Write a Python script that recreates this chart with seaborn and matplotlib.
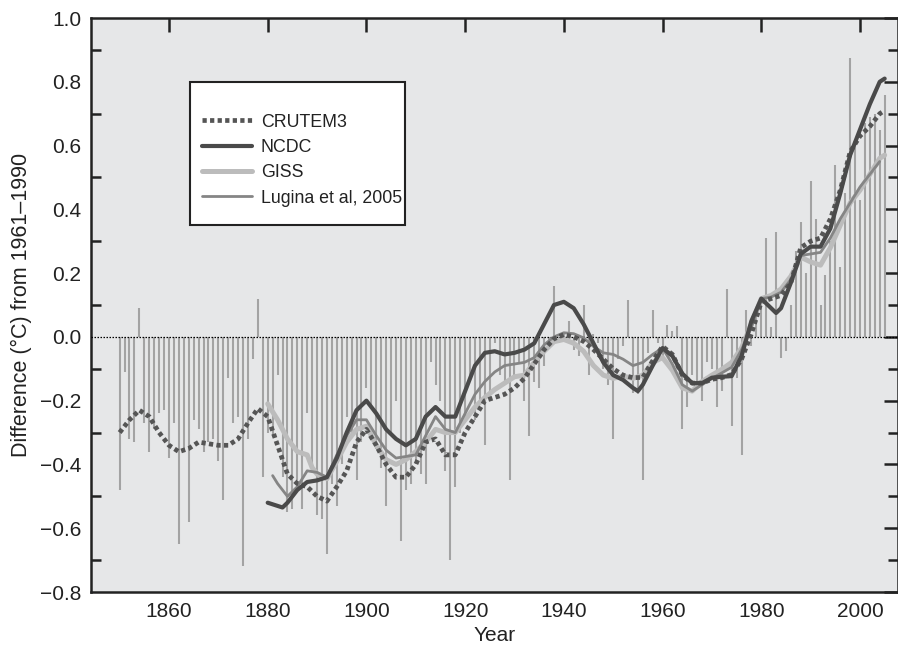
import matplotlib
matplotlib.use("Agg")
import matplotlib.pyplot as plt
import seaborn as sns
import numpy as np
import pandas as pd
from matplotlib.ticker import MultipleLocator
from matplotlib.patches import Rectangle

# ---------------- data ----------------
bar_years = list(range(1850, 2006))
bar_values = [
    -0.48, -0.11, -0.32, -0.33, 0.09, -0.27, -0.36, -0.29, -0.24, -0.23,   # 1850s
    -0.38, -0.27, -0.65, -0.36, -0.58, -0.26, -0.29, -0.36, -0.33, -0.32,  # 1860s
    -0.39, -0.51, -0.13, -0.27, -0.25, -0.72, -0.32, -0.07, 0.12, -0.44,   # 1870s
    -0.30, -0.31, -0.12, -0.44, -0.55, -0.54, -0.45, -0.54, -0.24, -0.40,  # 1880s
    -0.56, -0.57, -0.68, -0.46, -0.53, -0.40, -0.25, -0.30, -0.45, -0.33,  # 1890s
    -0.16, -0.22, -0.35, -0.41, -0.53, -0.30, -0.20, -0.64, -0.48, -0.46,  # 1900s
    -0.40, -0.43, -0.46, -0.08, -0.15, -0.20, -0.42, -0.70, -0.47, -0.30,  # 1910s
    -0.25, -0.12, -0.26, -0.20, -0.34, -0.20, -0.02, -0.12, -0.15, -0.45,  # 1920s
    -0.12, -0.08, -0.20, -0.31, -0.14, -0.16, -0.09, -0.03, 0.16, -0.02,   # 1930s
    0.01, 0.05, -0.04, -0.06, 0.10, -0.12, 0.01, -0.02, -0.10, -0.15,      # 1940s
    -0.32, -0.07, -0.03, 0.115, -0.175, -0.18, -0.45, -0.05, 0.085, -0.02, # 1950s
    -0.06, 0.036, 0.02, 0.033, -0.29, -0.22, -0.12, -0.15, -0.20, -0.08,   # 1960s
    -0.10, -0.22, -0.17, 0.15, -0.28, -0.13, -0.37, 0.085, -0.03, 0.08,    # 1970s
    0.12, 0.31, 0.03, 0.33, -0.066, -0.045, 0.10, 0.27, 0.36, 0.20,        # 1980s
    0.49, 0.37, 0.10, 0.195, 0.30, 0.54, 0.22, 0.45, 0.875, 0.60,          # 1990s
    0.43, 0.67, 0.69, 0.70, 0.65, 0.76,                                    # 2000s
]

crutem_years = [1850, 1852, 1854, 1856, 1858, 1860, 1862, 1864, 1866, 1868,
                1870, 1872, 1874, 1876, 1878, 1880, 1882, 1884, 1886, 1888,
                1890, 1892, 1894, 1896, 1898, 1900, 1902, 1904, 1906, 1908,
                1910, 1912, 1914, 1916, 1918, 1920, 1922, 1924, 1926, 1928,
                1930, 1932, 1934, 1936, 1938, 1940, 1942, 1944, 1946, 1948,
                1950, 1952, 1954, 1956, 1958, 1960, 1962, 1964, 1966, 1968,
                1970, 1972, 1974, 1976, 1978, 1980, 1982, 1984, 1986, 1988,
                1990, 1992, 1994, 1996, 1998, 2000, 2002, 2004, 2005]
crutem_values = [-0.30, -0.26, -0.23, -0.25, -0.30, -0.34, -0.36, -0.35, -0.33, -0.335,
                 -0.34, -0.34, -0.32, -0.27, -0.225, -0.25, -0.34, -0.43, -0.46, -0.47,
                 -0.50, -0.515, -0.47, -0.42, -0.33, -0.29, -0.34, -0.40, -0.44, -0.44,
                 -0.40, -0.33, -0.32, -0.37, -0.37, -0.30, -0.25, -0.20, -0.19, -0.18,
                 -0.16, -0.13, -0.085, -0.04, -0.006, 0.007, 0.0, -0.014, -0.04, -0.07,
                 -0.10, -0.12, -0.128, -0.127, -0.075, -0.03, -0.055, -0.12, -0.145, -0.145,
                 -0.133, -0.128, -0.118, -0.07, 0.01, 0.11, 0.12, 0.13, 0.17, 0.28,
                 0.30, 0.31, 0.37, 0.46, 0.58, 0.63, 0.66, 0.70, 0.71]

ncdc_years = [1880, 1882, 1883, 1884, 1886, 1888, 1890, 1892, 1894, 1896,
              1898, 1900, 1902, 1904, 1906, 1908, 1910, 1912, 1914, 1916,
              1918, 1920, 1922, 1924, 1926, 1928, 1930, 1932, 1934, 1936,
              1938, 1940, 1942, 1944, 1946, 1948, 1950, 1952, 1954, 1955,
              1956, 1958, 1960, 1962, 1964, 1966, 1968, 1970, 1972, 1974,
              1976, 1978, 1980, 1982, 1983, 1984, 1986, 1988, 1990, 1992,
              1994, 1996, 1998, 2000, 2002, 2004, 2005]
ncdc_values = [-0.52, -0.53, -0.535, -0.52, -0.48, -0.455, -0.45, -0.44, -0.38, -0.30,
               -0.23, -0.20, -0.24, -0.29, -0.32, -0.34, -0.32, -0.25, -0.22, -0.25,
               -0.25, -0.17, -0.09, -0.05, -0.045, -0.055, -0.05, -0.04, -0.02, 0.04,
               0.10, 0.11, 0.09, 0.04, -0.02, -0.08, -0.12, -0.135, -0.16, -0.17,
               -0.15, -0.09, -0.035, -0.06, -0.115, -0.145, -0.145, -0.128, -0.125, -0.123,
               -0.06, 0.05, 0.12, 0.09, 0.075, 0.09, 0.17, 0.26, 0.283, 0.283,
               0.34, 0.45, 0.57, 0.65, 0.73, 0.80, 0.81]

giss_years = [1880, 1882, 1884, 1886, 1888, 1889, 1890, 1892, 1894, 1896,
              1898, 1900, 1902, 1904, 1906, 1908, 1910, 1912, 1914, 1916,
              1918, 1920, 1922, 1924, 1926, 1928, 1930, 1932, 1934, 1936,
              1938, 1940, 1942, 1944, 1946, 1948, 1950, 1952, 1954, 1956,
              1958, 1960, 1962, 1964, 1966, 1968, 1970, 1972, 1974, 1976,
              1978, 1980, 1982, 1984, 1986, 1988, 1990, 1992, 1994, 1996,
              1998, 2000, 2002, 2004, 2005]
giss_values = [-0.21, -0.26, -0.32, -0.36, -0.37, -0.41, -0.43, -0.445, -0.39, -0.33,
               -0.29, -0.28, -0.34, -0.385, -0.40, -0.385, -0.36, -0.33, -0.29, -0.30,
               -0.30, -0.26, -0.22, -0.19, -0.165, -0.145, -0.125, -0.12, -0.08, -0.045,
               -0.015, -0.008, -0.02, -0.045, -0.09, -0.12, -0.13, -0.123, -0.13, -0.12,
               -0.08, -0.065, -0.105, -0.16, -0.17, -0.14, -0.12, -0.102, -0.08, -0.035,
               0.04, 0.12, 0.13, 0.15, 0.19, 0.25, 0.235, 0.225, 0.28, 0.35,
               0.42, 0.46, 0.51, 0.56, 0.57]

lugina_years = [1881, 1882, 1884, 1886, 1888, 1890, 1892, 1894, 1896, 1898,
                1900, 1902, 1904, 1906, 1908, 1910, 1912, 1914, 1916, 1918,
                1920, 1922, 1924, 1926, 1928, 1930, 1932, 1934, 1936, 1938,
                1940, 1942, 1944, 1946, 1948, 1950, 1952, 1954, 1956, 1958,
                1960, 1962, 1964, 1966, 1968, 1970, 1972, 1974, 1976, 1978,
                1980, 1982, 1984, 1986, 1988, 1990, 1992, 1994, 1996, 1998,
                2000, 2002, 2004]
lugina_values = [-0.435, -0.46, -0.50, -0.47, -0.42, -0.425, -0.44, -0.37, -0.31, -0.26,
                 -0.26, -0.31, -0.355, -0.38, -0.375, -0.37, -0.31, -0.25, -0.29, -0.30,
                 -0.24, -0.18, -0.14, -0.11, -0.09, -0.085, -0.08, -0.065, -0.025, 0.0,
                 0.013, 0.01, -0.003, -0.03, -0.05, -0.055, -0.07, -0.09, -0.08, -0.055,
                 -0.035, -0.086, -0.15, -0.17, -0.15, -0.13, -0.113, -0.095, -0.04, 0.03,
                 0.12, 0.125, 0.14, 0.18, 0.255, 0.26, 0.265, 0.31, 0.37, 0.42,
                 0.47, 0.51, 0.55]

series_labels = ["CRUTEM3", "NCDC", "GISS", "Lugina et al, 2005"]
x_ticks = [1860, 1880, 1900, 1920, 1940, 1960, 1980, 2000]
y_ticks = [-0.8, -0.6, -0.4, -0.2, 0.0, 0.2, 0.4, 0.6, 0.8, 1.0]
x_label = "Year"
y_label = "Difference (°C) from 1961–1990"

# ---------------- style ----------------
sns.set_theme(style="white")
plt.rcParams["font.family"] = ["Liberation Sans", "DejaVu Sans"]
plt.rcParams["axes.unicode_minus"] = True

fig = plt.figure(figsize=(8.98, 6.45), dpi=100)
ax = fig.add_axes([91 / 898, 1 - 592 / 645, (898 - 91) / 898, (592 - 18) / 645])
ax.set_facecolor("#e6e7e8")

# annual bars
ax.vlines(bar_years, 0, bar_values, color="#a3a3a3", linewidth=1.5, zorder=2)
# zero line
ax.axhline(0, color="black", linewidth=0.9, linestyle=(0, (1.2, 1.2)), zorder=3)

df_c = pd.DataFrame({"year": crutem_years, "value": crutem_values})
df_n = pd.DataFrame({"year": ncdc_years, "value": ncdc_values})
df_g = pd.DataFrame({"year": giss_years, "value": giss_values})
df_l = pd.DataFrame({"year": lugina_years, "value": lugina_values})

sns.lineplot(data=df_g, x="year", y="value", ax=ax, color="#bcbcbc", linewidth=3.6,
             label=series_labels[2], zorder=4)
sns.lineplot(data=df_l, x="year", y="value", ax=ax, color="#858585", linewidth=2.0,
             label=series_labels[3], zorder=5)
sns.lineplot(data=df_c, x="year", y="value", ax=ax, color="#555555", linewidth=3.4,
             linestyle=(0, (0.9, 0.7)), label=series_labels[0], zorder=6)
sns.lineplot(data=df_n, x="year", y="value", ax=ax, color="#4a4a4a", linewidth=3.0,
             label=series_labels[1], zorder=7)

ax.set_xlim(1844.2, 2007.7)
ax.set_ylim(-0.8, 1.0)
ax.set_xticks(x_ticks)
ax.set_yticks(y_ticks)
ax.set_yticklabels([f"{v:.1f}".replace("-", "\u2212") for v in y_ticks])
ax.yaxis.set_minor_locator(MultipleLocator(0.1))

for s in ax.spines.values():
    s.set_color("#222222")
    s.set_linewidth(1.8)

ax.tick_params(axis="both", which="major", direction="in", length=10, width=1.8,
               color="#222222", labelsize=15, top=True, right=True,
               labelcolor="#222222", pad=7)
ax.tick_params(axis="y", which="minor", direction="in", length=7, width=1.8,
               color="#222222", left=True, right=True)

ax.set_xlabel(x_label, fontsize=15, color="#222222", labelpad=4)
ax.set_ylabel(y_label, fontsize=15.5, color="#222222", labelpad=6)

# legend: box drawn separately, entries placed inside
box = Rectangle((0.1227, 0.6394), 0.3892 - 0.1227, 0.8885 - 0.6394,
                transform=ax.transAxes, facecolor="white", edgecolor="#222222",
                linewidth=1.5, zorder=9)
ax.add_patch(box)
handles, labels = ax.get_legend_handles_labels()
order = [labels.index(l) for l in series_labels]
leg = ax.legend([handles[i] for i in order], [labels[i] for i in order],
                loc="upper left", bbox_to_anchor=(0.1375, 0.8335), fontsize=12.8,
                frameon=False, handlelength=2.8, handletextpad=0.5,
                labelspacing=0.47, borderpad=0, borderaxespad=0)
leg.set_zorder(10)
for t in leg.get_texts():
    t.set_color("#222222")

fig.savefig("out.png", dpi=100, facecolor="white")
